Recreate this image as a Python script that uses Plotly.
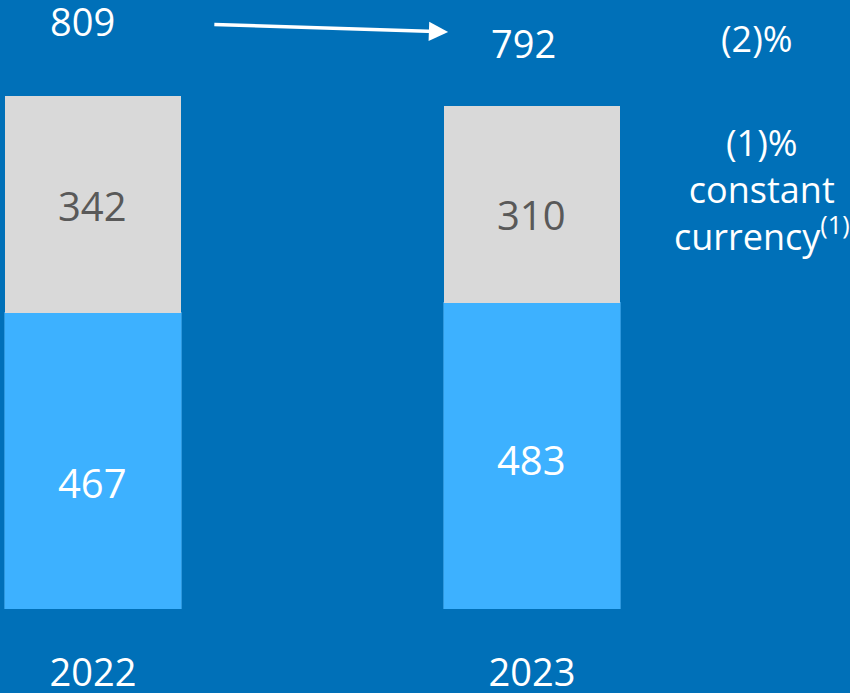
import plotly.graph_objects as go

years = ["2022", "2023"]
lower_values = [467, 483]
upper_values = [342, 310]
totals = [809, 792]
change_text = "(2)%"
cc_text = "(1)%<br>constant<br>currency<sup>(1)</sup>"

BG = "#0070B8"
LIGHT_BLUE = "#3DB1FF"
GRAY = "#D9D9D9"
FONT = "Open Sans"

fig = go.Figure()
fig.add_trace(go.Bar(
    x=years, y=lower_values, width=0.401,
    marker=dict(color=LIGHT_BLUE, line=dict(color="#2E98DE", width=1)),
    hoverinfo="skip",
))
fig.add_trace(go.Bar(
    x=years, y=upper_values, width=0.401,
    marker=dict(color=GRAY, line=dict(width=0)),
    hoverinfo="skip",
))

# segment labels
for i, (lo, up) in enumerate(zip(lower_values, upper_values)):
    fig.add_annotation(x=i, y=lo / 2, text=str(lo), showarrow=False,
                       yshift=[-22, -4][i], yanchor="middle",
                       font=dict(family=FONT, size=40, color="white"))
    fig.add_annotation(x=i, y=lo + up / 2, text=str(up), showarrow=False,
                       yshift=[-1, -10][i], yanchor="middle",
                       font=dict(family=FONT, size=40, color="#595959"))

# totals above bars
for i, (tot, xs, ys) in enumerate(zip(totals, [-10, -8], [75, 64])):
    fig.add_annotation(x=i, y=tot, text=str(tot), showarrow=False,
                       xshift=xs, yshift=ys, yanchor="middle",
                       font=dict(family=FONT, size=38, color="white"))

# arrow between totals
fig.add_annotation(x=0.809, y=910, ax=0.273, ay=922, xref="x", yref="y",
                   axref="x", ayref="y", text="", showarrow=True,
                   arrowhead=2, arrowsize=1.1, arrowwidth=3.5,
                   arrowcolor="white")

fig.add_annotation(xref="paper", yref="paper", x=757/850, y=1-44/693,
                   text=change_text, showarrow=False, xanchor="center",
                   yanchor="middle", font=dict(family=FONT, size=36, color="white"))
fig.add_annotation(xref="paper", yref="paper", x=762/850, y=1-216/693,
                   text=cc_text, showarrow=False, xanchor="center",
                   yanchor="middle", align="center",
                   font=dict(family=FONT, size=36, color="white"))

fig.update_layout(
    barmode="stack",
    width=850, height=693,
    margin=dict(l=0, r=0, t=0, b=84, autoexpand=False),
    paper_bgcolor=BG, plot_bgcolor=BG,
    showlegend=False,
    xaxis=dict(range=[-0.2118, 1.7244], showgrid=False, zeroline=False,
               showline=False, ticks="", ticklabelstandoff=38, automargin=False,
               tickfont=dict(family=FONT, size=38, color="white")),
    yaxis=dict(range=[0, 960.4], visible=False, automargin=False),
)

fig.write_html("out.html")
